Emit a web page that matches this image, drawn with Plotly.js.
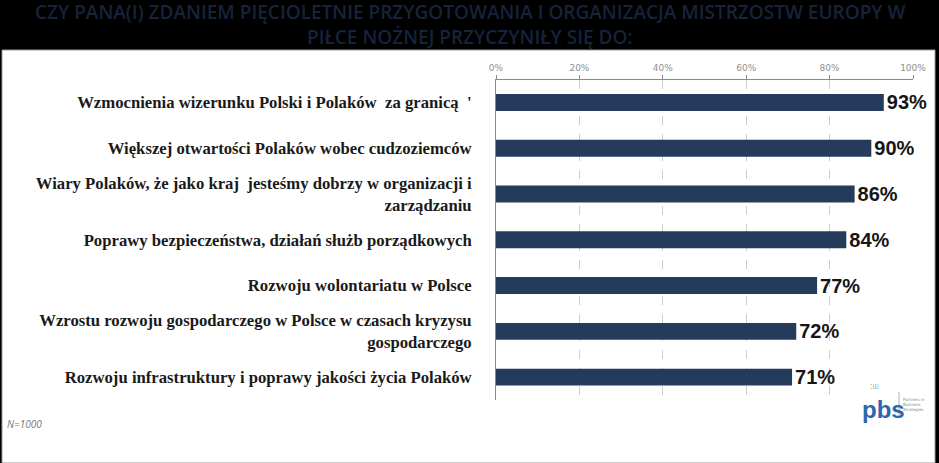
<!DOCTYPE html>
<html>
<head>
<meta charset="utf-8">
<script src="https://cdn.plot.ly/plotly-3.0.1.min.js"></script>
<style>
html,body{margin:0;padding:0;background:#000;}
#chart{width:939px;height:463px;}
</style>
</head>
<body>
<div id="chart"></div>
<script>
const categories = [
  "Wzmocnienia wizerunku Polski i Polaków  za granicą  '",
  "Większej otwartości Polaków wobec cudzoziemców",
  "Wiary Polaków, że jako kraj  jesteśmy dobrzy w organizacji i<br>zarządzaniu",
  "Poprawy bezpieczeństwa, działań służb porządkowych",
  "Rozwoju wolontariatu w Polsce",
  "Wzrostu rozwoju gospodarczego w Polsce w czasach kryzysu<br>gospodarczego",
  "Rozwoju infrastruktury i poprawy jakości życia Polaków"
];
const values = [93, 90, 86, 84, 77, 72, 71];
const tickVals = [0, 20, 40, 60, 80, 100];
const tickText = ["0%", "20%", "40%", "60%", "80%", "100%"];
const titleLines = [
  "CZY PANA(I) ZDANIEM PIĘCIOLETNIE PRZYGOTOWANIA I ORGANIZACJA MISTRZOSTW EUROPY W",
  "PIŁCE NOŻNEJ PRZYCZYNIŁY SIĘ DO:"
];
const noteText = "N=1000";

const W = 939, H = 463;
const px = x => x / W;
const py = y => 1 - y / H;

const trace = {
  type: 'bar',
  orientation: 'h',
  x: values,
  y: categories,
  marker: {color: '#243b5c', line: {width: 0}},
  text: values.map(v => v + '%'),
  textposition: 'outside',
  constraintext: 'none',
  cliponaxis: false,
  textfont: {family: 'Liberation Sans, Arial, sans-serif', size: 20, color: '#161616', weight: 'bold'},
  hoverinfo: 'none'
};

const layout = {
  width: W, height: H,
  margin: {l: 0, r: 0, t: 0, b: 0},
  paper_bgcolor: '#000',
  plot_bgcolor: 'rgba(0,0,0,0)',
  showlegend: false,
  bargap: 0.63,
  xaxis: {
    domain: [px(496), px(913)],
    range: [0, 100],
    side: 'top',
    anchor: 'y',
    tickvals: tickVals,
    ticktext: tickText,
    tickfont: {family: 'DejaVu Sans, sans-serif', size: 9, color: '#8f8f8f'},
    showgrid: true,
    gridcolor: '#cdcdcd',
    griddash: 'dash',
    gridwidth: 1,
    zeroline: false,
    showline: true,
    linecolor: '#8a8a8a',
    linewidth: 1,
    ticks: 'outside',
    ticklen: 4,
    tickcolor: '#8a8a8a',
    fixedrange: true
  },
  yaxis: {
    domain: [py(400), py(79.6)],
    type: 'category',
    range: [6.5, -0.5],
    showgrid: false,
    zeroline: false,
    showline: true,
    linecolor: '#8a8a8a',
    linewidth: 1,
    ticks: '',
    ticklabelstandoff: 20,
    tickfont: {family: 'Liberation Serif, serif', size: 16.7, color: '#1a1a1a', weight: 'bold'},
    fixedrange: true
  },
  shapes: [
    {type: 'rect', xref: 'paper', yref: 'paper', x0: px(2), x1: px(935), y0: py(463), y1: py(50),
     fillcolor: '#ffffff', line: {color: '#9a9a9a', width: 1}, layer: 'below'},
    {type: 'line', xref: 'paper', yref: 'paper', x0: px(899), x1: px(899), y0: py(392), y1: py(416),
     line: {color: '#b0b0b0', width: 1}}
  ],
  annotations: [
    {xref: 'paper', yref: 'paper', x: 0.5, y: py(12), text: titleLines[0], showarrow: false,
     font: {family: 'Open Sans, sans-serif', size: 19, color: '#16233a', weight: 600}, xanchor: 'center', yanchor: 'middle'},
    {xref: 'paper', yref: 'paper', x: 0.5, y: py(37), text: titleLines[1], showarrow: false,
     font: {family: 'Open Sans, sans-serif', size: 19, color: '#16233a', weight: 600}, xanchor: 'center', yanchor: 'middle'},
    {xref: 'paper', yref: 'paper', x: px(5), y: py(424), text: '<i>' + noteText + '</i>', showarrow: false,
     font: {family: 'Open Sans, sans-serif', size: 10, color: '#777'}, xanchor: 'left', yanchor: 'middle'},
    {xref: 'paper', yref: 'paper', x: px(860), y: py(409), text: '<b>pbs</b>', showarrow: false,
     font: {family: 'Liberation Sans, Arial, sans-serif', size: 24, color: '#2a67ad'}, xanchor: 'left', yanchor: 'middle'},
    {xref: 'paper', yref: 'paper', x: px(868), y: py(387), text: '⁚⁝⁞⁝', showarrow: false,
     font: {family: 'DejaVu Sans, sans-serif', size: 7, color: '#2a67ad'}, xanchor: 'left', yanchor: 'middle'},
    {xref: 'paper', yref: 'paper', x: px(901), y: py(404), text: 'Partners in<br>Business<br>Strategies', showarrow: false,
     font: {family: 'DejaVu Sans, sans-serif', size: 4, color: '#888'}, xanchor: 'left', yanchor: 'middle', align: 'left'}
  ]
};

Plotly.newPlot('chart', [trace], layout, {displayModeBar: false, staticPlot: true});
</script>
</body>
</html>
